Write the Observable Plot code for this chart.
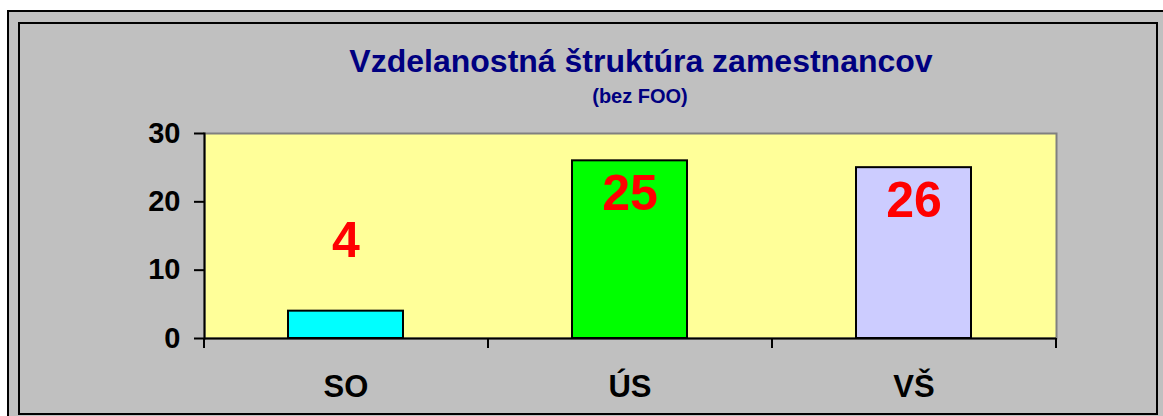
<!DOCTYPE html>
<html>
<head>
<meta charset="utf-8">
<script src="https://cdn.jsdelivr.net/npm/d3@7"></script>
<script src="https://cdn.jsdelivr.net/npm/@observablehq/plot@0.6"></script>
<style>
  html, body { margin: 0; padding: 0; background: #ffffff; }
  #wrap { position: relative; width: 1163px; height: 416px; overflow: hidden;
          font-family: "Liberation Sans", Arial, sans-serif; }
  #outer { position: absolute; left: 7px; top: 10px; width: 1170px; height: 420px;
           border: 2px solid #000; background: #c0c0c0; box-sizing: border-box; }
  #inner { position: absolute; left: 18px; top: 22px; width: 1140px; height: 393px;
           border: 2px solid #000; box-sizing: border-box; }
  .ttl { position: absolute; transform: translateX(-50%); white-space: nowrap;
         color: #000080; font-weight: bold; line-height: 1; }
  #title { left: 641px; top: 45px; font-size: 32px; }
  #subtitle { left: 640px; top: 86px; font-size: 20px; }
  #chart { position: absolute; left: 0; top: 0; }
</style>
</head>
<body>
<div id="wrap">
  <div id="outer"></div>
  <div id="inner"></div>
  <div id="title" class="ttl">Vzdelanostná štruktúra zamestnancov</div>
  <div id="subtitle" class="ttl">(bez FOO)</div>
  <div id="chart"></div>
</div>
<script>
const categories = ["SO", "ÚS", "VŠ"];
const values = [4, 26, 25];
const labels = ["4", "25", "26"];
const colors = ["#00ffff", "#00ff00", "#ccccff"];
const yTicks = [0, 10, 20, 30];

const data = categories.map((c, i) => ({cat: c, value: values[i], label: labels[i], color: colors[i]}));

const W = 1163, H = 416, mL = 204, mR = 107, mT = 133, mB = 78;
const step = (W - mL - mR) / categories.length;

const chart = Plot.plot({
  width: W, height: H,
  marginLeft: mL, marginRight: mR, marginTop: mT, marginBottom: mB,
  style: {background: "transparent", fontFamily: "Liberation Sans, Arial, sans-serif", fontWeight: "bold", overflow: "visible"},
  x: {domain: categories, paddingInner: 0.595, paddingOuter: 0.2975},
  y: {domain: [0, 30]},
  color: {type: "identity"},
  marks: [
    Plot.frame({fill: "#ffff99", stroke: "#808080", strokeWidth: 2}),
    Plot.barY(data, {x: "cat", y: "value", fill: "color", stroke: "#000", strokeWidth: 2}),
    Plot.frame({anchor: "left", stroke: "#000", strokeWidth: 2}),
    Plot.ruleY([0], {stroke: "#000", strokeWidth: 2}),
    Plot.ruleX(categories, {x: d => d, y1: 0, y2: 0, insetBottom: -10, dx: -step / 2, stroke: "#000", strokeWidth: 2}),
    Plot.ruleX([categories[categories.length - 1]], {x: d => d, y1: 0, y2: 0, insetBottom: -10, dx: step / 2, stroke: "#000", strokeWidth: 2}),
    Plot.axisY({ticks: yTicks, tickSize: 10, tickPadding: 14, fontSize: 29, fontWeight: "bold", color: "#000", strokeWidth: 2, label: null}),
    Plot.axisX({tickSize: 0, tickPadding: 36, fontSize: 31, fontWeight: "bold", color: "#000", label: null}),
    Plot.text(data.filter(d => d.value < 10), {x: "cat", y: "value", text: "label", dy: -70, fill: "#ff0000", fontSize: 50, fontWeight: "bold"}),
    Plot.text(data.filter(d => d.value >= 10), {x: "cat", y: "value", text: "label", dy: 33, fill: "#ff0000", fontSize: 50, fontWeight: "bold"})
  ]
});
document.getElementById("chart").appendChild(chart);
</script>
</body>
</html>
